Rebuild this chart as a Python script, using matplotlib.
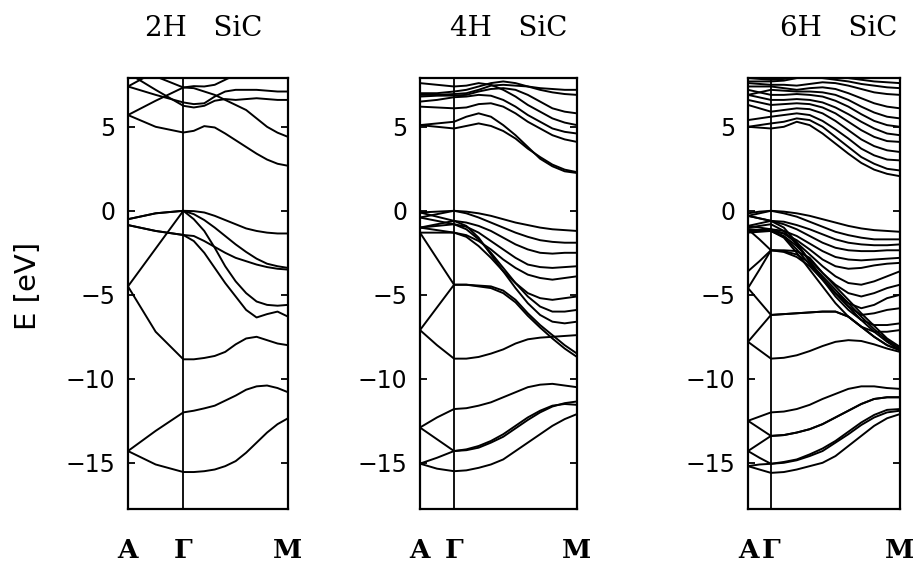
import numpy as np
import matplotlib.pyplot as plt

#%% Band data
# every band is sampled at: A, halfway A-Gamma, Gamma, then Gamma->M in tenths
gm_frac = [0.1, 0.2, 0.3, 0.4, 0.5, 0.6, 0.7, 0.8, 0.9, 1.0]

polytypes = ['2H', '4H', '6H']
gamma_pos = [0.346, 0.217, 0.151]       # position of Gamma on the A-Gamma-M path
energy_ticks = [-15, -10, -5, 0, 5]
kpoint_labels = ['A', 'Γ', 'M']

val_2h = [
    [-14.3, -15.1, -15.55, -15.55, -15.5, -15.4, -15.2, -14.9, -14.4, -13.8, -13.2, -12.7, -12.35],
    [-14.3, -13.1, -12.0, -11.9, -11.76, -11.6, -11.3, -11.0, -10.65, -10.45, -10.4, -10.55, -10.8],
    [-4.5, -7.2, -8.84, -8.84, -8.76, -8.64, -8.4, -7.95, -7.6, -7.5, -7.7, -7.9, -8.0],
    [-0.5, -0.15, 0.0, -0.02, -0.1, -0.3, -0.55, -0.8, -1.05, -1.2, -1.3, -1.35, -1.35],
    [-0.5, -0.15, 0.0, -0.2, -0.55, -1.0, -1.5, -2.0, -2.45, -2.85, -3.15, -3.3, -3.4],
    [-4.5, -2.25, 0.0, -0.5, -1.2, -2.2, -3.3, -4.2, -4.9, -5.4, -5.6, -5.65, -5.6],
    [-0.85, -1.2, -1.44, -1.5, -1.8, -2.15, -2.5, -2.8, -3.0, -3.2, -3.35, -3.45, -3.5],
    [-0.85, -1.2, -1.44, -1.8, -2.5, -3.4, -4.3, -5.1, -5.9, -6.35, -6.15, -6.0, -6.3],
]
cond_2h = [
    [5.7, 5.0, 4.66, 4.76, 5.04, 4.96, 4.6, 4.2, 3.8, 3.4, 3.05, 2.8, 2.68],
    [5.7, 6.55, 7.34, 7.42, 7.4, 7.5, 7.8, 8.1, 8.3, 8.4, 8.5, 8.5, 8.5],
    [7.4, 6.9, 6.45, 6.35, 6.4, 6.8, 7.1, 7.2, 7.2, 7.2, 7.15, 7.1, 7.1],
    [8.2, 7.2, 6.25, 6.15, 6.25, 6.55, 6.65, 6.6, 6.65, 6.7, 6.65, 6.6, 6.6],
    [8.6, 8.0, 7.34, 7.3, 7.1, 6.9, 6.6, 6.3, 6.0, 5.5, 5.0, 4.65, 4.4],
    [7.4, 8.3, 9.0, 9.0, 9.0, 9.0, 9.0, 9.0, 9.0, 9.0, 9.0, 9.0, 9.0],
]

val_4h = [
    [-15.05, -15.35, -15.5, -15.45, -15.3, -15.1, -14.8, -14.3, -13.8, -13.3, -12.8, -12.4, -12.1],
    [-15.05, -14.7, -14.3, -14.25, -14.1, -13.8, -13.45, -12.95, -12.45, -12.0, -11.65, -11.45, -11.35],
    [-12.9, -13.6, -14.3, -14.2, -14.0, -13.7, -13.3, -12.8, -12.3, -11.9, -11.6, -11.5, -11.55],
    [-12.9, -12.3, -11.8, -11.75, -11.6, -11.4, -11.1, -10.8, -10.5, -10.35, -10.3, -10.4, -10.5],
    [-7.1, -8.0, -8.8, -8.8, -8.7, -8.5, -8.25, -7.9, -7.65, -7.55, -7.5, -7.45, -7.4],
    [-7.1, -5.75, -4.4, -4.4, -4.45, -4.5, -4.75, -5.3, -6.1, -6.8, -7.4, -8.0, -8.5],
    [-1.3, -2.85, -4.4, -4.4, -4.5, -4.6, -4.9, -5.45, -6.25, -6.95, -7.6, -8.2, -8.7],
    [-0.1, -0.05, 0.0, -0.05, -0.15, -0.3, -0.5, -0.7, -0.85, -1.0, -1.1, -1.15, -1.2],
    [-0.4, -0.2, 0.0, -0.15, -0.4, -0.7, -1.0, -1.3, -1.55, -1.75, -1.85, -1.9, -1.9],
    [-1.0, -0.8, -0.6, -0.7, -0.9, -1.2, -1.6, -2.0, -2.3, -2.5, -2.55, -2.5, -2.5],
    [-0.4, -0.6, -0.8, -0.95, -1.3, -1.8, -2.3, -2.8, -3.2, -3.35, -3.4, -3.35, -3.3],
    [-1.0, -1.15, -1.3, -1.45, -1.8, -2.3, -2.9, -3.4, -3.8, -4.0, -4.1, -4.0, -3.9],
    [-1.3, -1.3, -1.3, -1.55, -2.1, -2.8, -3.6, -4.3, -4.9, -5.2, -5.3, -5.2, -5.1],
    [-1.0, -0.9, -0.8, -1.1, -1.7, -2.5, -3.4, -4.3, -5.1, -5.7, -6.0, -6.0, -5.9],
    [-0.1, -0.35, -0.6, -0.9, -1.6, -2.6, -3.6, -4.6, -5.5, -6.2, -6.6, -6.7, -6.6],
]
cond_4h = [
    [5.1, 5.0, 4.9, 5.05, 5.2, 5.05, 4.75, 4.3, 3.7, 3.2, 2.75, 2.45, 2.3],
    [5.1, 5.2, 5.3, 5.6, 5.8, 5.6, 5.1, 4.5, 3.8, 3.1, 2.65, 2.35, 2.25],
    [6.2, 6.15, 6.1, 6.15, 6.35, 6.4, 6.2, 5.8, 5.3, 4.9, 4.5, 4.25, 4.1],
    [6.5, 6.6, 6.76, 6.8, 6.9, 6.85, 6.6, 6.2, 5.7, 5.3, 4.9, 4.7, 4.6],
    [6.8, 6.85, 6.86, 6.9, 7.1, 7.25, 7.3, 7.2, 6.9, 6.5, 6.1, 5.9, 5.8],
    [6.9, 6.9, 6.95, 7.0, 7.2, 7.45, 7.5, 7.45, 7.4, 7.3, 7.25, 7.2, 7.2],
    [7.0, 7.0, 7.1, 7.2, 7.4, 7.6, 7.7, 7.6, 7.4, 7.2, 7.05, 6.95, 6.9],
    [7.6, 7.5, 7.4, 7.45, 7.6, 7.5, 7.2, 6.8, 6.3, 5.9, 5.5, 5.25, 5.1],
]

val_6h = [
    [-15.2, -15.4, -15.6, -15.55, -15.4, -15.2, -15.0, -14.6, -14.0, -13.4, -12.8, -12.35, -12.1],
    [-15.2, -15.1, -15.06, -15.0, -14.85, -14.6, -14.3, -13.8, -13.3, -12.75, -12.3, -12.0, -11.9],
    [-14.3, -14.7, -15.06, -14.95, -14.8, -14.5, -14.15, -13.7, -13.15, -12.6, -12.15, -11.85, -11.8],
    [-14.3, -13.85, -13.4, -13.35, -13.2, -13.0, -12.7, -12.3, -11.9, -11.5, -11.2, -11.1, -11.1],
    [-12.5, -12.95, -13.4, -13.35, -13.2, -13.0, -12.7, -12.3, -11.9, -11.5, -11.2, -11.1, -11.1],
    [-12.5, -12.25, -12.0, -11.95, -11.8, -11.55, -11.2, -10.9, -10.6, -10.45, -10.45, -10.55, -10.6],
    [-7.8, -8.3, -8.8, -8.75, -8.6, -8.35, -8.05, -7.8, -7.7, -7.75, -7.95, -8.2, -8.4],
    [-7.8, -7.0, -6.2, -6.15, -6.1, -6.05, -6.0, -6.0, -6.3, -6.9, -7.5, -8.0, -8.3],
    [-4.6, -5.4, -6.2, -6.15, -6.1, -6.05, -6.0, -6.0, -6.3, -6.9, -7.5, -8.0, -8.3],
    [-4.6, -3.5, -2.35, -2.35, -2.4, -2.8, -3.7, -4.5, -5.3, -6.1, -6.85, -7.6, -8.1],
    [-3.6, -3.0, -2.35, -2.4, -2.6, -3.1, -3.9, -4.7, -5.5, -6.3, -7.05, -7.7, -8.2],
    [-1.1, -1.7, -2.35, -2.45, -2.75, -3.3, -4.1, -4.9, -5.7, -6.5, -7.2, -7.8, -8.3],
    [-0.15, -0.05, 0.0, -0.05, -0.15, -0.3, -0.5, -0.7, -0.9, -1.05, -1.15, -1.2, -1.25],
    [-0.3, -0.15, 0.0, -0.15, -0.35, -0.65, -0.95, -1.25, -1.45, -1.6, -1.7, -1.7, -1.7],
    [-0.3, -0.45, -0.6, -0.65, -0.85, -1.1, -1.4, -1.7, -1.9, -2.0, -2.05, -2.05, -2.0],
    [-0.9, -0.75, -0.6, -0.8, -1.1, -1.5, -1.9, -2.2, -2.35, -2.4, -2.4, -2.35, -2.35],
    [-0.9, -1.0, -1.1, -1.2, -1.5, -1.95, -2.4, -2.75, -2.9, -2.95, -2.9, -2.85, -2.8],
    [-1.1, -1.15, -1.2, -1.35, -1.75, -2.3, -2.9, -3.3, -3.45, -3.4, -3.25, -3.15, -3.1],
    [-1.2, -1.15, -1.1, -1.35, -1.9, -2.6, -3.3, -3.9, -4.3, -4.4, -4.2, -3.9, -3.6],
    [-1.2, -1.2, -1.2, -1.5, -2.1, -2.9, -3.7, -4.4, -4.9, -5.1, -4.9, -4.6, -4.4],
    [-1.1, -1.15, -1.2, -1.55, -2.3, -3.2, -4.1, -4.9, -5.5, -5.8, -5.6, -5.2, -5.0],
    [-1.0, -0.9, -0.8, -1.2, -2.0, -3.0, -4.0, -4.9, -5.7, -6.2, -6.1, -5.9, -5.8],
    [-0.3, -0.45, -0.6, -1.0, -1.9, -3.0, -4.1, -5.1, -5.9, -6.5, -6.8, -6.8, -6.7],
    [-1.3, -1.25, -1.2, -1.6, -2.5, -3.5, -4.5, -5.5, -6.3, -6.9, -7.2, -7.2, -7.1],
]
cond_6h = [
    [5.0, 4.95, 4.9, 5.0, 5.3, 5.1, 4.6, 4.0, 3.4, 2.85, 2.45, 2.2, 2.06],
    [5.0, 5.1, 5.2, 5.3, 5.5, 5.4, 5.0, 4.4, 3.8, 3.2, 2.8, 2.5, 2.4],
    [5.4, 5.5, 5.6, 5.7, 5.8, 5.7, 5.35, 4.85, 4.3, 3.7, 3.3, 3.05, 3.0],
    [6.3, 6.1, 5.9, 6.0, 6.1, 6.05, 5.8, 5.35, 4.8, 4.25, 3.85, 3.6, 3.5],
    [6.6, 6.45, 6.3, 6.35, 6.4, 6.35, 6.15, 5.8, 5.3, 4.8, 4.4, 4.15, 4.1],
    [6.9, 6.75, 6.6, 6.6, 6.65, 6.6, 6.45, 6.15, 5.75, 5.3, 4.9, 4.6, 4.5],
    [7.2, 7.05, 6.9, 6.9, 6.95, 6.9, 6.8, 6.55, 6.2, 5.75, 5.35, 5.1, 5.0],
    [6.9, 7.05, 7.2, 7.15, 7.1, 7.1, 7.05, 6.9, 6.6, 6.2, 5.85, 5.6, 5.5],
    [7.4, 7.4, 7.4, 7.3, 7.2, 7.3, 7.35, 7.25, 7.0, 6.7, 6.4, 6.2, 6.1],
    [7.6, 7.55, 7.5, 7.5, 7.45, 7.55, 7.65, 7.6, 7.45, 7.25, 7.05, 6.95, 6.9],
    [7.7, 7.7, 7.7, 7.75, 7.9, 7.95, 7.9, 7.8, 7.7, 7.55, 7.45, 7.35, 7.3],
    [7.9, 7.85, 7.8, 7.85, 8.0, 8.1, 8.1, 8.0, 7.9, 7.8, 7.7, 7.65, 7.6],
]

bands_all = [val_2h + cond_2h, val_4h + cond_4h, val_6h + cond_6h]

#%% Figure

fig = plt.figure(figsize=(9.16, 5.67), dpi=100)

# axes boxes in figure fraction (left, bottom, width, height)
boxes = [[0.1397, 0.1023, 0.1747, 0.760],
         [0.4585, 0.1023, 0.1714, 0.760],
         [0.8166, 0.1023, 0.1659, 0.760]]
title_x = [0.2227, 0.5557, 0.9159]

for i in range(3):
    g = gamma_pos[i]
    kpath = [0.0, g / 2, g] + [g + f * (1 - g) for f in gm_frac]

    ax = fig.add_axes(boxes[i])
    for band in bands_all[i]:
        ax.plot(kpath, band, color='black', lw=1.4, solid_joinstyle='round')

    ax.axvline(g, color='black', lw=1.3)
    ax.set_xlim(0, 1)
    ax.set_ylim(-17.75, 7.9)

    ax.set_yticks(energy_ticks)
    ax.set_yticklabels([('\u2212' + str(abs(v))) if v < 0 else str(v) for v in energy_ticks],
                       family='DejaVu Sans', fontsize=17)
    ax.tick_params(axis='y', direction='in', length=5, width=1.3, right=True, pad=9)

    ax.set_xticks([0.0, g, 1.0])
    ax.set_xticklabels(kpoint_labels, family='DejaVu Serif', fontsize=19, fontweight='bold')
    ax.tick_params(axis='x', length=0, pad=21)

    for s in ax.spines.values():
        s.set_linewidth(1.6)

    fig.text(title_x[i], 0.95, polytypes[i] + '   SiC', family='DejaVu Serif',
             fontsize=20, ha='center', va='center')

fig.text(0.031, 0.495, 'E [eV]', family='DejaVu Sans', fontsize=21,
         rotation=90, ha='center', va='center')

plt.savefig('out.png', dpi=100)
